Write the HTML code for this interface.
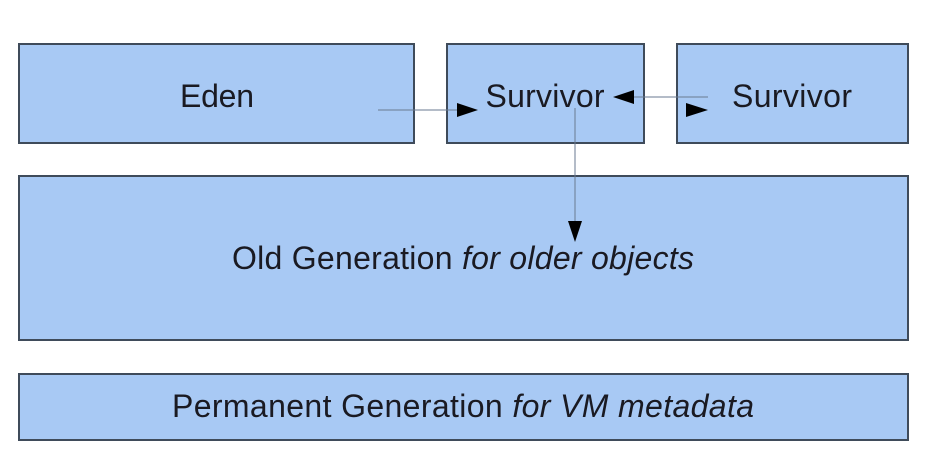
<!DOCTYPE html>
<html><head><style>
body{margin:0;background:#fff;width:932px;height:468px;overflow:hidden}
</style></head><body>
<svg width="932" height="468" xmlns="http://www.w3.org/2000/svg" font-family="Liberation Sans, sans-serif">
<g fill="#a8c9f4" stroke="#3f4b5a" stroke-width="2">
<rect x="19" y="44" width="395" height="99"/>
<rect x="447" y="44" width="197" height="99"/>
<rect x="677" y="44" width="231" height="99"/>
<rect x="19" y="176" width="889" height="164"/>
<rect x="19" y="374" width="889" height="66"/>
</g>
<g stroke="#6a7a90" stroke-width="1" fill="none">
<line x1="378" y1="110" x2="460" y2="110"/>
<line x1="630" y1="97" x2="708" y2="97"/>
<line x1="575" y1="108" x2="575" y2="225"/>
</g>
<g fill="#000">
<polygon points="457,103 478,110 457,117"/>
<polygon points="634,90 613,97 634,104"/>
<polygon points="686,103 708,110 686,117"/>
<polygon points="568,221 582,221 575,242"/>
</g>
<g font-size="32" fill="#1a1a22" text-anchor="middle">
<text x="217" y="107" textLength="74">Eden</text>
<text x="545" y="107" textLength="119">Survivor</text>
<text x="792" y="107" textLength="120">Survivor</text>
<text x="463" y="269" textLength="462">Old Generation <tspan font-style="italic">for older objects</tspan></text>
<text x="463" y="417" textLength="582">Permanent Generation <tspan font-style="italic">for VM metadata</tspan></text>
</g>
</svg>
</body></html>
